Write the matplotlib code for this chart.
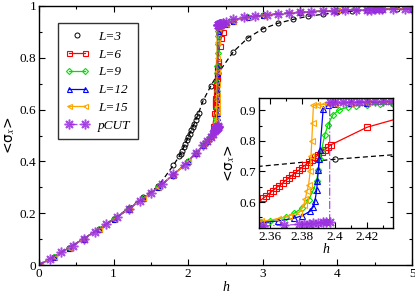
import matplotlib
matplotlib.use("Agg")
import matplotlib.pyplot as plt
from matplotlib.ticker import MultipleLocator
from matplotlib.legend_handler import HandlerLine2D

# ---------------- data ----------------
h_L3 = [0, 0.2, 0.4, 0.6, 0.8, 1.0, 1.2, 1.4, 1.6, 1.8, 1.88, 1.90, 1.92, 1.94, 1.96,
        1.98, 2.00, 2.02, 2.04, 2.06, 2.08, 2.10, 2.12, 2.14, 2.2, 2.3, 2.4, 2.6, 2.8,
        3.0, 3.2, 3.4, 3.6, 3.8, 4.0, 4.2, 4.4, 4.6, 4.8, 5.0]
s_L3 = [0, 0.032, 0.066, 0.102, 0.139, 0.178, 0.219, 0.262, 0.305, 0.385, 0.42, 0.43,
        0.442, 0.455, 0.468, 0.481, 0.494, 0.507, 0.52, 0.533, 0.546, 0.56, 0.574, 0.588,
        0.635, 0.69, 0.74, 0.822, 0.877, 0.912, 0.933, 0.948, 0.96, 0.968, 0.975, 0.98,
        0.983, 0.986, 0.988, 0.99]

h_low = [0, 0.2, 0.4, 0.6, 0.8, 1.0, 1.2, 1.4, 1.6, 1.8, 2.0, 2.1, 2.2, 2.25, 2.3]
s_low = [0, 0.032, 0.066, 0.102, 0.138, 0.176, 0.216, 0.258, 0.30, 0.348, 0.40, 0.432,
         0.462, 0.48, 0.50]

h_high = [2.5, 2.6, 2.8, 3.0, 3.5, 4.0, 4.5, 5.0]
s_high = [0.93, 0.944, 0.956, 0.964, 0.976, 0.983, 0.987, 0.99]

h_L6 = [2.33, 2.35, 2.356, 2.358, 2.360, 2.362, 2.364, 2.366, 2.368, 2.370, 2.372, 2.374,
        2.376, 2.378, 2.380, 2.382, 2.384, 2.386, 2.388, 2.390, 2.392, 2.394, 2.396,
        2.398, 2.42, 2.44, 2.46]
s_L6 = [0.535, 0.585, 0.612, 0.620, 0.629, 0.637, 0.646, 0.654, 0.662, 0.671, 0.679,
        0.688, 0.696, 0.704, 0.713, 0.721, 0.730, 0.738, 0.746, 0.755, 0.763, 0.772,
        0.780, 0.788, 0.845, 0.875, 0.90]

h_L9 = [2.33, 2.355, 2.36, 2.37, 2.375, 2.38, 2.384, 2.387, 2.389, 2.390, 2.391, 2.392,
        2.394, 2.396, 2.399, 2.403, 2.408, 2.413, 2.42, 2.428, 2.436, 2.45]
s_L9 = [0.515, 0.535, 0.538, 0.551, 0.563, 0.58, 0.607, 0.64, 0.67, 0.705, 0.74, 0.77,
        0.82, 0.853, 0.886, 0.902, 0.911, 0.915, 0.917, 0.92, 0.921, 0.923]

h_L12 = [2.33, 2.355, 2.365, 2.375, 2.38, 2.385, 2.387, 2.388, 2.389, 2.3895, 2.390,
         2.3905, 2.391, 2.393, 2.396, 2.400, 2.41, 2.42, 2.44]
s_L12 = [0.515, 0.532, 0.538, 0.547, 0.555, 0.57, 0.585, 0.605, 0.64, 0.67, 0.705,
         0.74, 0.77, 0.905, 0.918, 0.922, 0.924, 0.925, 0.927]

h_L15 = [2.33, 2.355, 2.365, 2.372, 2.378, 2.381, 2.382, 2.383, 2.384, 2.385, 2.3855,
         2.386, 2.3865, 2.387, 2.389, 2.392, 2.396, 2.40, 2.41, 2.42, 2.44]
s_L15 = [0.515, 0.537, 0.545, 0.555, 0.565, 0.59, 0.61, 0.635, 0.655, 0.70, 0.75, 0.80,
         0.86, 0.918, 0.918, 0.919, 0.92, 0.921, 0.922, 0.923, 0.926]

h_pc = [0, 0.15, 0.3, 0.45, 0.6, 0.75, 0.9, 1.05, 1.2, 1.35, 1.5, 1.65, 1.8, 1.95, 2.1,
        2.2, 2.25, 2.3, 2.33, 2.352, 2.356, 2.369, 2.378, 2.381, 2.384, 2.387, 2.39,
        2.393, 2.395, 2.397, 2.397, 2.40, 2.405, 2.41, 2.415, 2.42, 2.425, 2.43, 2.435,
        2.44, 2.46, 2.5, 2.6, 2.75, 2.9, 3.05, 3.2, 3.35, 3.5, 3.65, 3.8, 3.95, 4.1,
        4.25, 4.4, 4.45, 4.5, 4.55, 4.6, 4.75, 4.9, 5.0]
s_pc = [0, 0.024, 0.049, 0.075, 0.102, 0.129, 0.157, 0.186, 0.216, 0.247, 0.279, 0.313,
        0.35, 0.387, 0.432, 0.462, 0.478, 0.495, 0.505, 0.52, 0.522, 0.524, 0.527, 0.528,
        0.529, 0.531, 0.532, 0.533, 0.534, 0.535, 0.927, 0.927, 0.928, 0.928, 0.929,
        0.93, 0.93, 0.931, 0.931, 0.932, 0.935, 0.94, 0.948, 0.956, 0.962, 0.966, 0.97,
        0.973, 0.976, 0.978, 0.98, 0.982, 0.984, 0.985, 0.986, 0.986, 0.987, 0.987,
        0.987, 0.988, 0.989, 0.99]

labels = ["L=3", "L=6", "L=9", "L=12", "L=15", "pCUT"]
colors = ["black", "#ff0000", "#00e000", "#0000ff", "#ffa500", "#9a2ee0"]

# ---------------- figure ----------------
plt.rcParams['font.family'] = ['Liberation Serif', 'DejaVu Serif']
plt.rcParams['mathtext.fontset'] = 'stix'

fig = plt.figure(figsize=(4.15, 2.94), dpi=100)
ax = fig.add_axes([0.094, 0.0986, 0.899, 0.881])
axi = fig.add_axes([0.624, 0.2235, 0.322, 0.4445])

def series(L):
    hs = list(h_low) + L[0] + list(h_high)
    ss = list(s_low) + L[1] + list(s_high)
    return hs, ss

sets = [(h_L6, s_L6, 's'), (h_L9, s_L9, 'D'), (h_L12, s_L12, '^'), (h_L15, s_L15, '<')]
star = (8, 2, 0)
line3 = None
for target, inset in [(ax, False), (axi, True)]:
    ms = 3.6 if not inset else 3.8
    l3, = target.plot(h_L3, s_L3, ls=(0, (4, 2.5)), lw=0.9, color=colors[0], marker='o',
                      ms=ms, mfc='none', mec=colors[0], mew=0.7,
                      label=labels[0] if not inset else None)
    if not inset:
        line3 = l3
    for i, (hh, ss, mk) in enumerate(sets):
        hs, sv = series((hh, ss))
        target.plot(hs, sv, ls='-', lw=0.9, color=colors[i + 1], marker=mk,
                    ms=ms * (0.85 if mk == 'D' else 1.0), mfc='none', mec=colors[i + 1],
                    mew=0.8, label=labels[i + 1] if not inset else None)
    target.plot(h_pc, s_pc, ls='-.', lw=0.9, color=colors[5], marker=star, ms=7,
                mfc=colors[5], mec=colors[5], mew=1.1, alpha=0.85,
                label=labels[5] if not inset else None)

# main axes
ax.set_xlim(0, 5)
ax.set_ylim(0, 1)
ax.set_xticks([0, 1, 2, 3, 4, 5])
ax.set_xticklabels(['0', '1', '2', '3', '4', '5'])
ax.xaxis.set_minor_locator(MultipleLocator(0.5))
ax.set_yticks([0, 0.2, 0.4, 0.6, 0.8, 1.0])
ax.set_yticklabels(['0', '0.2', '0.4', '0.6', '0.8', '1'])
ax.yaxis.set_minor_locator(MultipleLocator(0.1))
for a in (ax, axi):
    a.tick_params(which='both', direction='in', top=True, right=True, labelsize=9.5,
                  pad=2)
    a.tick_params(which='major', length=4, width=0.8)
    a.tick_params(which='minor', length=2, width=0.8)
    for sp in a.spines.values():
        sp.set_linewidth(1.0)
ax.set_xlabel('h', style='italic', fontsize=10, labelpad=1)
ax.set_ylabel('<σ$_x$>', fontsize=10, family=['DejaVu Sans'], labelpad=2)

leg = ax.legend(loc='upper left', bbox_to_anchor=(0.051, 0.933), numpoints=2,
                fontsize=9.5, frameon=True, fancybox=False, edgecolor='black',
                handlelength=1.8, handletextpad=0.7, labelspacing=0.42,
                borderpad=0.55, borderaxespad=0,
                handler_map={line3: HandlerLine2D(numpoints=1)})
leg.get_frame().set_linewidth(1.0)
for t in leg.get_texts():
    t.set_style('italic')
leg.legend_handles[0].set_linestyle('none')

# inset
axi.set_xlim(2.3535, 2.4357)
axi.set_ylim(0.514, 0.942)
axi.set_xticks([2.36, 2.38, 2.40, 2.42])
axi.set_xticklabels(['2.36', '2.38', '2.4', '2.42'])
axi.xaxis.set_minor_locator(MultipleLocator(0.01))
axi.set_yticks([0.6, 0.7, 0.8, 0.9])
axi.set_yticklabels(['0.6', '0.7', '0.8', '0.9'])
axi.yaxis.set_minor_locator(MultipleLocator(0.05))
axi.set_xlabel('h', style='italic', fontsize=10, labelpad=0)
axi.set_ylabel('<σ$_x$>', fontsize=10, family=['DejaVu Sans'], labelpad=2)
axi.set_facecolor('white')

fig.savefig('out.png', dpi=100)
